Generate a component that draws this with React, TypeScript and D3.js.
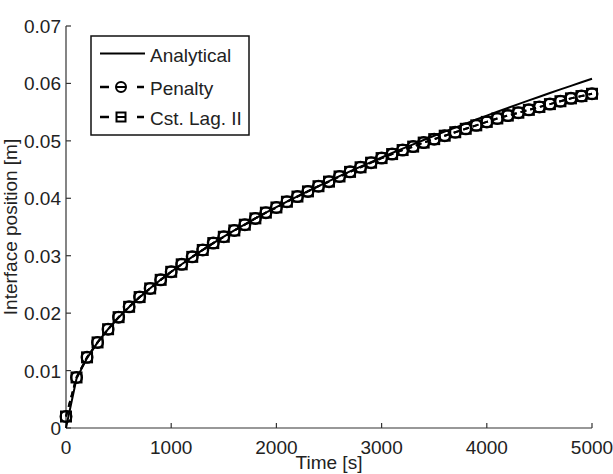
import React from "react";
import * as d3 from "d3";

const times = d3.range(0, 5001, 100);
const analytical = [
  0, 0.0086, 0.01216, 0.0149, 0.0172, 0.01923, 0.02107, 0.02275, 0.02432, 0.0258,
  0.0272, 0.02852, 0.02979, 0.03101, 0.03218, 0.03331, 0.0344, 0.03546, 0.03649, 0.03749,
  0.03846, 0.03941, 0.04034, 0.04124, 0.04213, 0.043, 0.04385, 0.04469, 0.04551, 0.04631,
  0.0471, 0.04788, 0.04865, 0.0494, 0.05015, 0.05088, 0.0516, 0.05231, 0.05301, 0.05371,
  0.05439, 0.05507, 0.05573, 0.05639, 0.05705, 0.05769, 0.05833, 0.05896, 0.05958, 0.0602,
  0.06081,
];
const penalty = [
  0.002, 0.0088, 0.0123, 0.0149, 0.0172, 0.0193, 0.0211, 0.0228, 0.0243, 0.0258,
  0.0272, 0.0285, 0.0298, 0.031, 0.0322, 0.0333, 0.0344, 0.0354, 0.0365, 0.0375,
  0.0384, 0.0394, 0.0403, 0.0412, 0.0421, 0.0429, 0.0438, 0.0446, 0.0454, 0.0462,
  0.047, 0.0477, 0.0484, 0.049, 0.0497, 0.0503, 0.0509, 0.0515, 0.0521, 0.0527,
  0.0533, 0.0539, 0.0544, 0.0549, 0.0554, 0.0559, 0.0564, 0.0569, 0.0574, 0.0578,
  0.0582,
];
const cstLag = [
  0.002, 0.0088, 0.0123, 0.0149, 0.0172, 0.0193, 0.0211, 0.0228, 0.0243, 0.0258,
  0.0272, 0.0285, 0.0298, 0.031, 0.0322, 0.0333, 0.0344, 0.0354, 0.0365, 0.0375,
  0.0384, 0.0394, 0.0403, 0.0412, 0.0421, 0.0429, 0.0438, 0.0446, 0.0454, 0.0462,
  0.047, 0.0477, 0.0484, 0.049, 0.0497, 0.0503, 0.0509, 0.0515, 0.0521, 0.0527,
  0.0533, 0.0539, 0.0544, 0.0549, 0.0554, 0.0559, 0.0564, 0.0569, 0.0574, 0.0578,
  0.0582,
];
const xTicks = [0, 1000, 2000, 3000, 4000, 5000];
const yTicks = [0, 0.01, 0.02, 0.03, 0.04, 0.05, 0.06, 0.07];
const legendLabels = ["Analytical", "Penalty", "Cst. Lag. II"];

const W = 613;
const H = 474;
const x = d3.scaleLinear().domain([0, 5000]).range([66, 592]);
const y = d3.scaleLinear().domain([0, 0.07]).range([428, 26]);
const font = "'Liberation Sans', Arial, Helvetica, sans-serif";
const axisColor = "#333";
const fs = 19;

export default function App() {
  const line = d3
    .line<number>()
    .x((_, i) => x(times[i]))
    .y((d) => y(d));
  const aPath = line(analytical) || "";
  const pPath = line(penalty) || "";
  const cPath = line(cstLag) || "";
  const r = 5.5;
  const s = 5;
  return (
    <svg
      width={W}
      height={H}
      style={{ position: "absolute", left: 0, top: 0, background: "#fff" }}
      fontFamily={font}
    >
      <rect x={0} y={0} width={W} height={H} fill="#fff" />
      {/* axes */}
      <line x1={x(0)} x2={x(0)} y1={y(0.07)} y2={y(0)} stroke={axisColor} strokeWidth={1.2} />
      <line x1={x(0)} x2={x(5000)} y1={y(0)} y2={y(0)} stroke={axisColor} strokeWidth={1.2} />
      {xTicks.map((t) => (
        <g key={"xt" + t}>
          <line x1={x(t)} x2={x(t)} y1={y(0)} y2={y(0) - 5} stroke={axisColor} strokeWidth={1.2} />
          <text x={x(t)} y={454} fontSize={fs} textAnchor="middle" fill="#222">
            {t}
          </text>
        </g>
      ))}
      {yTicks.map((t) => (
        <g key={"yt" + t}>
          <line x1={x(0)} x2={x(0) + 5} y1={y(t)} y2={y(t)} stroke={axisColor} strokeWidth={1.2} />
          <text x={61} y={y(t) + 7} fontSize={fs} textAnchor="end" fill="#222">
            {t === 0 ? "0" : t.toFixed(2)}
          </text>
        </g>
      ))}
      <text x={329} y={469} fontSize={fs} textAnchor="middle" fill="#222">
        Time [s]
      </text>
      <text
        transform={`translate(17,${227}) rotate(-90)`}
        fontSize={fs}
        textAnchor="middle"
        fill="#222"
      >
        Interface position [m]
      </text>

      {/* series */}
      <path d={cPath} fill="none" stroke="#000" strokeWidth={2} strokeDasharray="6,4" />
      <path d={pPath} fill="none" stroke="#000" strokeWidth={2} strokeDasharray="6,4" />
      <path d={aPath} fill="none" stroke="#000" strokeWidth={2} />
      {penalty.map((v, i) => (
        <circle key={"p" + i} cx={x(times[i])} cy={y(v)} r={r} fill="none" stroke="#000" strokeWidth={2} />
      ))}
      {cstLag.map((v, i) => (
        <rect
          key={"c" + i}
          x={x(times[i]) - s}
          y={y(v) - s}
          width={2 * s}
          height={2 * s}
          fill="none"
          stroke="#000"
          strokeWidth={2}
        />
      ))}

      {/* legend */}
      <rect x={91} y={36} width={158} height={99} fill="#fff" stroke="#111" strokeWidth={1.5} />
      {legendLabels.map((lab, i) => {
        const ly = [53.5, 87, 117][i];
        return (
          <g key={lab}>
            {i === 0 ? (
              <line x1={100} x2={145} y1={ly} y2={ly} stroke="#000" strokeWidth={2} />
            ) : (
              <g>
                <line x1={100} x2={109} y1={ly} y2={ly} stroke="#000" strokeWidth={2.5} />
                <line x1={137} x2={144} y1={ly} y2={ly} stroke="#000" strokeWidth={2.5} />
                <line x1={116} x2={126} y1={ly} y2={ly} stroke="#000" strokeWidth={2} />
                {i === 1 ? (
                  <circle cx={121} cy={ly} r={5} fill="none" stroke="#000" strokeWidth={2} />
                ) : (
                  <rect x={116.5} y={ly - 4.5} width={9} height={9} fill="none" stroke="#000" strokeWidth={2} />
                )}
              </g>
            )}
            <text x={150} y={ly + 8} fontSize={fs} fill="#222">
              {lab}
            </text>
          </g>
        );
      })}
    </svg>
  );
}
